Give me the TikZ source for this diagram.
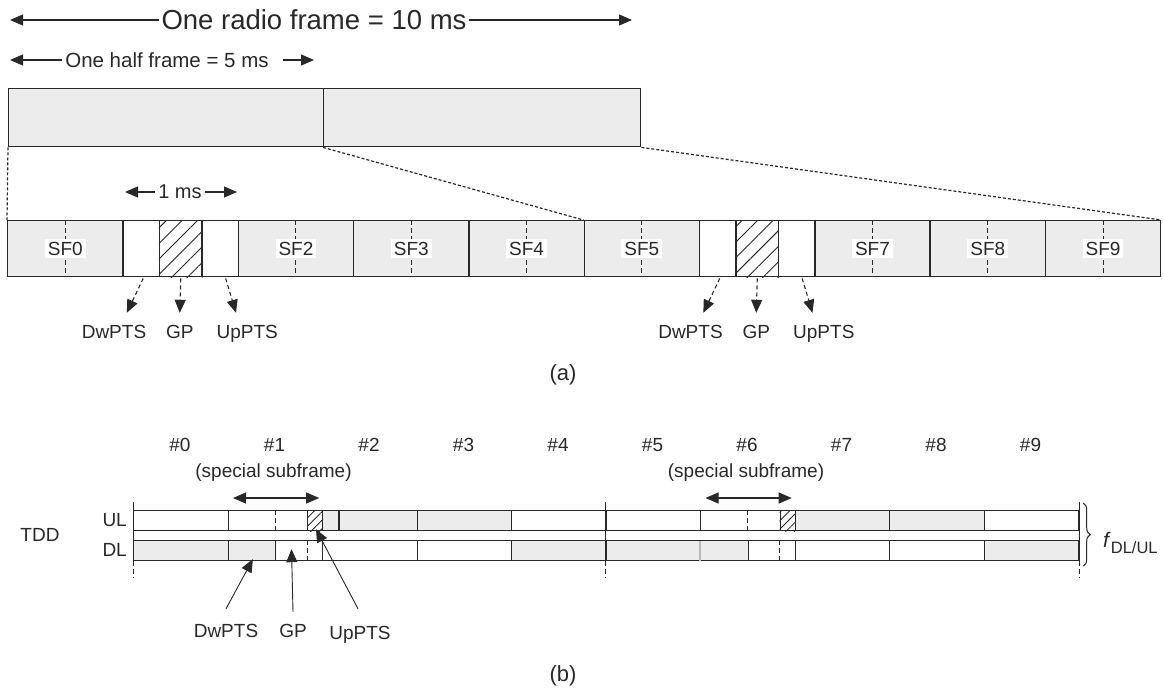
\documentclass[tikz,border=0pt]{standalone}
\usepackage{fontspec}
\setsansfont{Liberation Sans}
\usetikzlibrary{arrows.meta,positioning,calc,patterns.meta,decorations.pathreplacing}
\definecolor{sffill}{RGB}{236,236,236}
\definecolor{sfedge}{RGB}{40,40,40}

\begin{document}
\begin{tikzpicture}[
  x=1pt, y=-1pt,
  font=\sffamily\fontsize{19}{22}\selectfont,
  >={Triangle[length=13pt,width=11pt]},
  every node/.style={inner sep=0pt, text=sfedge},
  sfbox/.style={
      rectangle, draw=sfedge, line width=1.4pt, fill=sffill,
      minimum width=115.3pt, minimum height=56pt, anchor=north west
  },
  halfbox/.style={
      rectangle, draw=sfedge, line width=1.4pt, fill=sffill,
      minimum width=315pt, minimum height=58pt, anchor=north west
  },
  subbox/.style={
      rectangle, draw=sfedge, line width=1.2pt,
      minimum width=94.5pt, minimum height=20pt, anchor=north west
  },
  hatch/.style={pattern={Lines[angle=45,distance=11pt,line width=0.9pt]},
                pattern color=sfedge},
  hatchb/.style={pattern={Lines[angle=45,distance=6pt,line width=0.8pt]},
                 pattern color=sfedge},
  sflabel/.style={fill=white, inner sep=3pt},
  lbl/.style={text height=14pt, text depth=4pt},
  arr/.style={->, draw=sfedge, line width=1.1pt},
  dasharr/.style={->, draw=sfedge, line width=1.1pt, dash pattern=on 4pt off 3pt},
  zoomline/.style={draw=sfedge, line width=1.2pt, dash pattern=on 3pt off 2pt},
  midtick/.style={draw=sfedge, line width=1pt, dash pattern=on 5pt off 3pt},
  markline/.style={draw=sfedge, line width=1pt}
]
\useasboundingbox (0,0) rectangle (1164,698);

% =========================================================
% (a) radio frame and half frames
% =========================================================
\node[font=\sffamily\fontsize{27.5}{30}\selectfont] (radio) at (314,20) {One radio frame = 10 ms};
\coordinate (radioL) at (10,20);
\coordinate (radioR) at (632,20);
\draw[arr] ([xshift=-2pt]radio.west) -- (radioL);
\draw[arr] ([xshift=2pt]radio.east)  -- (radioR);

\node[font=\sffamily\fontsize{20.5}{23}\selectfont] (half) at (167,60) {One half frame = 5 ms};
\coordinate (halfL) at (10,60);
\coordinate (halfR) at (314,60);
\draw[arr] ([xshift=-3pt]half.west) -- (halfL);
\draw[arr] ([xshift=14pt]half.east) -- (halfR);

\node[halfbox]                        (hf1) at (8,88)   {};
\node[halfbox, minimum width=317pt]   (hf2) at (323,88) {};

% =========================================================
% (a) ten subframes
% =========================================================
\foreach \k in {0,2,3,4,5,7,8,9}{
  \node[sfbox] (sf\k) at (7+115.3*\k,220) {};
  \draw[midtick] (sf\k.north) -- (sf\k.south);
  \node[sflabel] (sflab\k) at (sf\k.center) {SF\k};
}

% special subframes: DwPTS / GP / UpPTS
\foreach \k in {1,6}{
  \pgfmathsetmacro{\xs}{7+115.3*\k}
  \node[sfbox, fill=white, minimum width=36.5pt] (dw\k) at (\xs,220)      {};
  \node[sfbox, fill=white, minimum width=42.5pt] (gp\k) at (\xs+36.5,220) {};
  \path[hatch] (gp\k.south west) rectangle (gp\k.north east);
  \node[sfbox, fill=white, minimum width=36.3pt] (up\k) at (\xs+79,220)   {};

  \node[lbl] (dwlab\k) at (\xs-8.3,333)  {DwPTS};
  \node[lbl] (gplab\k) at (\xs+57.5,333) {GP};
  \node[lbl] (uplab\k) at (\xs+125,333)  {UpPTS};

  \draw[dasharr] ([xshift=2pt,yshift=-1pt]dw\k.south) -- ([xshift=12.8pt,yshift=11pt]dwlab\k.north);
  \draw[dasharr] ([yshift=-1pt]gp\k.south)            -- ([yshift=11pt]gplab\k.north);
  \draw[dasharr] ([xshift=5.5pt,yshift=-1pt]up\k.south) -- ([xshift=-11.3pt,yshift=11pt]uplab\k.north);
}

% zoom lines from the half frames down to the subframes
\draw[zoomline] (hf1.south west) -- (sf0.north west);
\draw[zoomline] (hf2.south west) -- (sf5.north west);
\draw[zoomline] (hf2.south east) -- (sf9.north east);

% 1 ms marker
\node[font=\sffamily\fontsize{20}{23}\selectfont] (onems) at (180,192) {1 ms};
\coordinate (msL) at (125,192);
\coordinate (msR) at (237,192);
\draw[arr] ([xshift=-3pt]onems.west) -- (msL);
\draw[arr] ([xshift=3pt]onems.east)  -- (msR);

\node[font=\sffamily\fontsize{22}{25}\selectfont] (capa) at (563,375) {(a)};

% =========================================================
% (b) TDD: UL and DL rows
% =========================================================
\foreach \k in {0,...,9}
  \node (num\k) at (180+94.5*\k,445) {\#\k};

\foreach \k/\ulf/\dlf in {0/white/sffill, 1/white/white, 2/sffill/white,
                          3/sffill/white, 4/white/sffill, 5/white/sffill,
                          6/white/white, 7/sffill/white, 8/sffill/white,
                          9/white/sffill}{
  \node[subbox, fill=\ulf] (ul\k) at (133+94.5*\k,510) {};
  \node[subbox, fill=\dlf] (dl\k) at (133+94.5*\k,540) {};
}

\foreach \k in {1,6}{
  \pgfmathsetmacro{\xs}{133+94.5*\k}
  \node[subbox, fill=sffill, minimum width=47.5pt] (dldw\k) at (\xs,540)      {};
  \node[subbox, fill=white,  minimum width=15pt]   (ulup\k) at (\xs+79.5,510) {};
  \path[hatchb] (ulup\k.south west) rectangle (ulup\k.north east);
  \draw[midtick] ([xshift=47.5pt]ul\k.north west) -- ([xshift=47.5pt]ul\k.south west);
  \draw[midtick] ([xshift=79.5pt]dl\k.north west) -- ([xshift=79.5pt]dl\k.south west);
  \node (spec\k) at (\xs+46,473) {(special subframe)};
  \draw[arr, <->] ($(ul\k.north west)+(5.5,-12)$) -- ($(ul\k.north east)+(-4,-12)$);
}
\draw[markline, line width=1.2pt] ([xshift=17pt]ul2.north west) -- ([xshift=17pt]ul2.south west);
% faint border between DL #5 and DL #6
\draw[gray!55, line width=1.2pt] ([yshift=-0.6pt]dldw6.north west) -- ([yshift=0.6pt]dldw6.south west);

% half-frame markers
\draw[markline] ([yshift=8pt]ul0.north west) -- (dl0.south west);
\draw[midtick]  (dl0.south west) -- ([yshift=-17pt]dl0.south west);
\draw[markline] ([yshift=8pt]ul5.north west) -- (dl5.south west);
\draw[midtick]  (dl5.south west) -- ([yshift=-17pt]dl5.south west);
\draw[markline] ([yshift=8pt]ul9.north east) -- (dl9.south east);
\draw[midtick]  (dl9.south east) -- ([yshift=-17pt]dl9.south east);

% row names
\node[anchor=east] (ullab) at (127,520) {UL};
\node[anchor=east] (dllab) at (127,550) {DL};
\node (tdd) at (40,535) {TDD};

% carrier brace
\draw[decorate, decoration={brace, amplitude=7pt}, sfedge, line width=1pt]
  ([xshift=4pt,yshift=7pt]ul9.north east) -- ([xshift=4pt,yshift=-5pt]dl9.south east);
\node[anchor=west] (fdlul) at (1103,543)
  {\fontsize{21}{23}\selectfont\textit{f}\raisebox{-6pt}{\fontsize{16.5}{18}\selectfont DL/UL}};

% DwPTS / GP / UpPTS pointers
\node[lbl] (bdwlab) at (226,632) {DwPTS};
\node[lbl] (bgplab) at (293,632) {GP};
\node[lbl] (buplab) at (360,634) {UpPTS};
\coordinate (bdwtip) at ($(dldw1.south)+(1,-2)$);
\coordinate (bgptip) at ($(dl1.south west)+(64,-12)$);
\coordinate (buptip) at ($(ulup1.south west)+(9,-2)$);
\draw[arr, line width=0.9pt] ([yshift=14pt]bdwlab.north) -- (bdwtip);
\draw[arr, line width=0.9pt] ([yshift=11pt]bgplab.north) -- (bgptip);
\draw[arr, line width=0.9pt] ([xshift=-2pt,yshift=16pt]buplab.north) -- (buptip);

\node[font=\sffamily\fontsize{22}{25}\selectfont] (capb) at (563,676) {(b)};

\end{tikzpicture}
\end{document}
